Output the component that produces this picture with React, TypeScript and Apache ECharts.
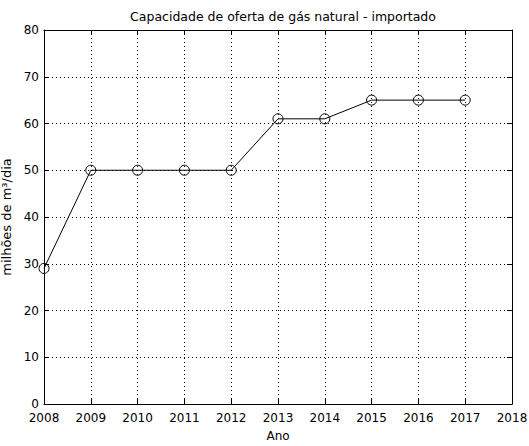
import React, { useEffect, useRef } from "react";
import * as echarts from "echarts";

const years = [2008, 2009, 2010, 2011, 2012, 2013, 2014, 2015, 2016, 2017];
const capacity = [29, 50, 50, 50, 50, 61, 61, 65, 65, 65];
const titleText = "Capacidade de oferta de gás natural - importado";
const xName = "Ano";
const yName = "milhões de m³/dia";

const FONT = "DejaVu Sans, Liberation Sans, sans-serif";

export default function App() {
  const ref = useRef<HTMLDivElement>(null);
  useEffect(() => {
    if (!ref.current) return;
    const chart = echarts.init(ref.current, undefined, { renderer: "svg" });
    const gridLine = { show: true, lineStyle: { color: "#000", width: 1, type: [1, 3] as any } };
    const axisLine = { show: true, onZero: false, lineStyle: { color: "#000", width: 1 } };
    const tick = { show: true, inside: true, length: 5, lineStyle: { color: "#000" } };
    chart.setOption({
      animation: false,
      backgroundColor: "#fff",
      title: {
        text: titleText,
        left: 278,
        textAlign: "center",
        top: 5,
        textStyle: { fontFamily: FONT, fontSize: 12.5, fontWeight: "normal", color: "#000" },
      },
      grid: {
        left: 44,
        top: 30,
        right: 17,
        bottom: 42,
        containLabel: false,
        outerBoundsMode: "none",
      },
      xAxis: [
        {
          type: "value",
          min: 2008,
          max: 2018,
          interval: 1,
          name: xName,
          nameLocation: "middle",
          nameGap: 26,
          nameTextStyle: { fontFamily: FONT, fontSize: 12, color: "#000" },
          axisLine,
          axisTick: tick,
          splitLine: gridLine,
          axisLabel: {
            formatter: (v: number) => String(v),
            fontFamily: FONT,
            fontSize: 12,
            color: "#000",
            margin: 8,
          },
        },
        {
          type: "value",
          position: "top",
          min: 2008,
          max: 2018,
          interval: 1,
          axisLine,
          axisTick: tick,
          splitLine: { show: false },
          axisLabel: { show: false },
        },
      ],
      yAxis: [
        {
          type: "value",
          min: 0,
          max: 80,
          interval: 10,
          name: yName,
          nameLocation: "middle",
          nameGap: 30,
          nameTextStyle: { fontFamily: FONT, fontSize: 13, color: "#000" },
          axisLine,
          axisTick: tick,
          splitLine: gridLine,
          axisLabel: { fontFamily: FONT, fontSize: 12, color: "#000", margin: 5 },
        },
        {
          type: "value",
          position: "right",
          min: 0,
          max: 80,
          interval: 10,
          axisLine,
          axisTick: tick,
          splitLine: { show: false },
          axisLabel: { show: false },
        },
      ],
      series: [
        {
          type: "line",
          data: years.map((y, i) => [y, capacity[i]]),
          symbol: "circle",
          symbolSize: 10,
          showAllSymbol: true,
          itemStyle: { color: "transparent", borderColor: "#000", borderWidth: 1 },
          lineStyle: { color: "#000", width: 1 },
        },
      ],
    });
    return () => chart.dispose();
  }, []);
  return (
    <div
      ref={ref}
      style={{ position: "fixed", left: 0, top: 0, width: 529, height: 446 }}
    />
  );
}
